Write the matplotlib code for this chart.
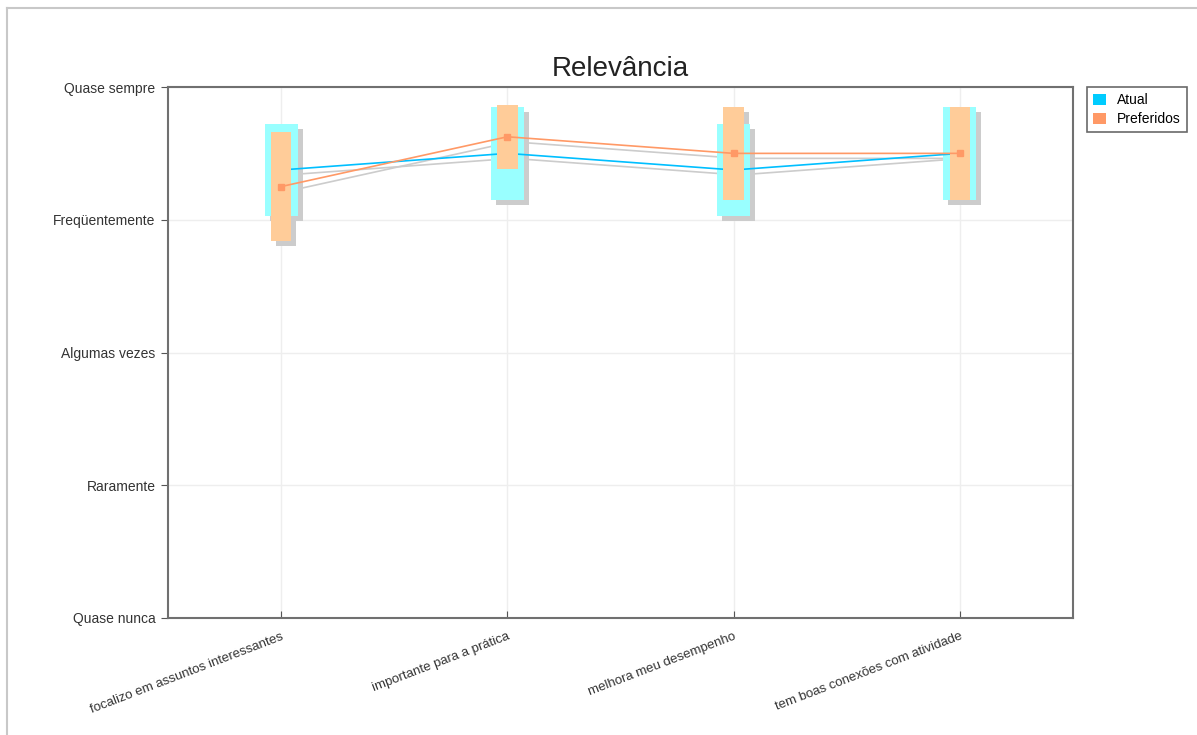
import matplotlib
matplotlib.use("Agg")
import matplotlib.pyplot as plt
import matplotlib.transforms as mtransforms
from matplotlib.patches import Rectangle, Patch
from matplotlib.lines import Line2D

plt.rcParams['font.family'] = ['Liberation Sans', 'DejaVu Sans']

categories = [
    "focalizo em assuntos interessantes",
    "importante para a prática",
    "melhora meu desempenho",
    "tem boas conexões com atividade",
]
scale_labels = ["Quase nunca", "Raramente", "Algumas vezes", "Freqüentemente", "Quase sempre"]
scale_values = [1, 2, 3, 4, 5]

atual_mean = [4.375, 4.5, 4.375, 4.5]
atual_spread = [0.35, 0.35, 0.35, 0.35]
pref_mean = [4.25, 4.625, 4.5, 4.5]
pref_spread = [0.41, 0.24, 0.35, 0.35]

C_ATUAL_BOX = "#99ffff"
C_ATUAL_LINE = "#00bfff"
C_PREF_BOX = "#ffcc99"
C_PREF_LINE = "#ff9966"
C_SHADOW = "#cccccc"

fig = plt.figure(figsize=(11.97, 7.35), dpi=100)
ax = fig.add_axes([168 / 1197, 1 - 618 / 735, (1073 - 168) / 1197, (618 - 87) / 735])

x = list(range(len(categories)))
shadow = ax.transData + mtransforms.ScaledTranslation(5 / 100, -5 / 100, fig.dpi_scale_trans)

wide = 0.073    # half-width in data units of the Atual box
narrow = 0.045  # half-width of the Preferidos box

def boxes(means, spreads, half, color, z, trans=None):
    for xi, m, s in zip(x, means, spreads):
        r = Rectangle((xi - half, m - s), 2 * half, 2 * s, facecolor=color,
                      edgecolor="none", zorder=z)
        if trans is not None:
            r.set_transform(trans)
        ax.add_patch(r)

# drop shadows
boxes(atual_mean, atual_spread, wide, C_SHADOW, 1, shadow)
boxes(pref_mean, pref_spread, narrow, C_SHADOW, 1, shadow)
ax.plot(x, atual_mean, color=C_SHADOW, lw=1.2, zorder=1, transform=shadow)
ax.plot(x, pref_mean, color=C_SHADOW, lw=1.2, zorder=1, transform=shadow)

# Atual
boxes(atual_mean, atual_spread, wide, C_ATUAL_BOX, 2)
ax.plot(x, atual_mean, color=C_ATUAL_LINE, lw=1.2, zorder=3)

# Preferidos
boxes(pref_mean, pref_spread, narrow, C_PREF_BOX, 4)
ax.plot(x, pref_mean, color=C_PREF_LINE, lw=1.2, marker="s", ms=5,
        markeredgecolor=C_PREF_LINE, zorder=5)

ax.set_xlim(-0.5, len(categories) - 0.5)
ax.set_ylim(1, 5)
ax.set_yticks(scale_values)
ax.set_yticklabels(scale_labels, fontsize=10, color="#333333")
ax.set_xticks(x)
ax.set_xticklabels(categories, fontsize=9.5, color="#333333", rotation=21,
                   ha="right", rotation_mode="anchor")
ax.tick_params(axis="y", direction="out", length=5, color="#555555", pad=4)
ax.tick_params(axis="x", direction="in", length=5, color="#555555", pad=9)
ax.grid(True, color="#eeeeee", lw=1, zorder=0)
ax.set_axisbelow(True)
for sp in ax.spines.values():
    sp.set_color("#707070")
    sp.set_linewidth(1.5)

ax.set_title("Relevância", fontsize=20, color="#222222", pad=8)

handles = [Patch(facecolor="#00ccff", edgecolor="none", label="Atual"),
           Patch(facecolor=C_PREF_LINE, edgecolor="none", label="Preferidos")]
leg = fig.legend(handles=handles, loc="upper left",
                 bbox_to_anchor=(1087 / 1197, 1 - 87 / 735), borderaxespad=0,
                 fontsize=10, frameon=True, fancybox=False, handlelength=0.9,
                 handleheight=0.9, handletextpad=0.8, borderpad=0.45, labelspacing=0.35)
leg.get_frame().set_edgecolor("#444444")
leg.get_frame().set_linewidth(1.2)

# outer page border
fig.add_artist(Line2D([7 / 1197, 1], [1 - 8 / 735, 1 - 8 / 735], color="#c8c8c8", lw=1.5,
                      transform=fig.transFigure))
fig.add_artist(Line2D([7 / 1197, 7 / 1197], [0, 1 - 8 / 735], color="#c8c8c8", lw=1.5,
                      transform=fig.transFigure))

fig.savefig("out.png", dpi=100)
